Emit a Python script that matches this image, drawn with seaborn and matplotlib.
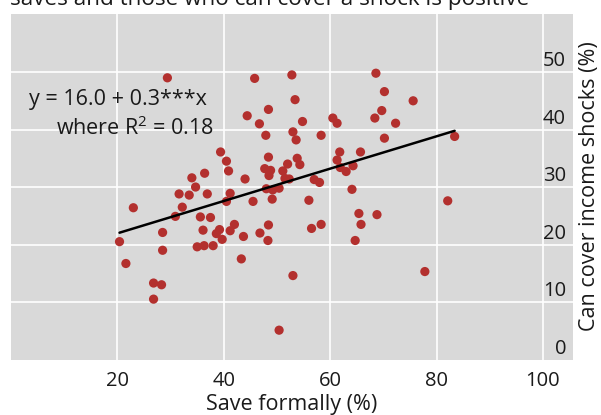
import numpy as np
import pandas as pd
import matplotlib
matplotlib.use("Agg")
import matplotlib.pyplot as plt
import matplotlib.transforms as mtransforms
import seaborn as sns

# Data
save_formally = [
    20.4, 21.6, 23.0, 26.8, 28.3, 26.8, 28.5, 28.5, 29.4, 30.9,
    32.2, 31.6, 33.5, 34.7, 34.0, 36.4, 36.9, 35.6, 37.5, 36.1,
    38.6, 39.2, 35.0, 36.3, 38.0, 39.7, 41.2, 42.0, 43.3, 43.7,
    46.8, 48.4, 48.3, 50.4, 53.0, 56.5, 58.3, 56.0, 45.5, 40.5,
    41.2, 44.0, 40.9, 40.5, 39.4, 47.9, 48.4, 48.0, 49.1, 49.2,
    50.4, 47.7, 48.8, 48.5, 51.1, 52.0, 51.5, 52.3, 53.8, 54.3,
    53.0, 53.6, 58.3, 57.0, 58.0, 45.8, 52.8, 53.4, 48.4, 44.4,
    46.7, 54.8, 60.5, 61.3, 61.8, 61.3, 61.9, 63.0, 64.3, 65.7,
    64.1, 68.6, 70.2, 75.6, 69.7, 68.4, 72.3, 70.2, 83.4, 82.1,
    65.4, 68.8, 65.8, 64.7, 77.8,
]
cover_shocks = [
    20.5, 16.7, 26.4, 13.3, 13.0, 10.5, 22.1, 19.0, 49.0, 24.9,
    26.5, 28.8, 28.6, 30.0, 31.6, 32.4, 28.8, 24.8, 24.7, 22.5,
    21.9, 22.6, 19.6, 19.8, 19.8, 20.9, 22.4, 23.5, 17.5, 21.4,
    22.0, 23.4, 20.7, 5.1, 14.6, 22.8, 23.5, 27.7, 27.5, 27.5,
    28.9, 31.4, 32.8, 34.5, 36.1, 39.0, 35.2, 29.7, 27.9, 29.5,
    29.8, 33.2, 32.9, 32.0, 32.8, 34.0, 31.5, 31.4, 35.0, 33.9,
    39.6, 38.2, 39.0, 31.3, 30.8, 48.9, 49.5, 45.2, 43.5, 42.4,
    41.0, 41.4, 42.0, 41.1, 36.1, 34.7, 33.4, 32.7, 33.7, 36.1,
    29.6, 49.8, 46.6, 45.0, 43.3, 42.0, 41.1, 38.5, 38.8, 27.6,
    25.4, 25.2, 23.5, 20.7, 15.3,
]
x_ticks = [20, 40, 60, 80, 100]
y_ticks = [0, 10, 20, 30, 40, 50]
title_text = "saves and those who can cover a shock is positive"
eq_line1 = "y = 16.0 + 0.3***x"
eq_line2 = "where R$^2$ = 0.18"
x_label = "Save formally (%)"
y_label = "Can cover income shocks (%)"

df = pd.DataFrame({"save": save_formally, "cover": cover_shocks})

sns.set_theme(style="white")
plt.rcParams["font.family"] = ["Open Sans", "DejaVu Sans"]
plt.rcParams["mathtext.fontset"] = "custom"
plt.rcParams["mathtext.rm"] = "Open Sans"

W, H = 601, 415
fig = plt.figure(figsize=(W / 100, H / 100), dpi=100)
ax = fig.add_axes([11 / W, 1 - 359.5 / H, (573 - 11) / W, (359.5 - 14) / H])
ax.set_facecolor("#D9D9D9")

sns.regplot(data=df, x="save", y="cover", ax=ax, ci=None, truncate=True,
            scatter_kws=dict(s=44, color="#B3302E", edgecolor="none", alpha=1, zorder=3),
            line_kws=dict(color="black", lw=1.8, zorder=4))

ax.set_xlim(0, 105.65)
ax.set_ylim(0, 60.1)
ax.set_xticks(x_ticks)
ax.set_yticks(y_ticks)
ax.grid(True, color="white", lw=1.2, zorder=0)
ax.set_axisbelow(True)
for s in ax.spines.values():
    s.set_visible(False)

ax.tick_params(axis="x", direction="in", length=13, width=1.5, color="black",
               labelsize=14.5, pad=8, labelcolor="#1a1a1a")
ax.yaxis.tick_right()
ax.tick_params(axis="y", length=0, labelsize=14.5, pad=-5, labelcolor="#1a1a1a")
offset = mtransforms.ScaledTranslation(0, 0.06, fig.dpi_scale_trans)
for lab in ax.get_yticklabels():
    lab.set_horizontalalignment("right")
    lab.set_verticalalignment("baseline")
    lab.set_transform(lab.get_transform() + offset)
# hide the horizontal gridline at 0 (it is the panel edge)
ax.yaxis.get_gridlines()[0].set_visible(False)

ax.set_xlabel(x_label, fontsize=15.5, labelpad=2.5, color="#1a1a1a")
ax.set_ylabel("")
fig.text(590 / W, 1 - 186 / H, y_label, rotation=90, ha="center", va="center",
         fontsize=15.5, color="#1a1a1a")

ax.text(20.1, 45.2, eq_line1, ha="center", va="center", fontsize=15.5, color="#1a1a1a")
ax.text(23.3, 40.3, eq_line2, ha="center", va="center", fontsize=15.5, color="#1a1a1a")

fig.text(10 / W, 1 - 4.5 / H, title_text, ha="left", va="baseline", fontsize=16.2,
         color="#1a1a1a")

fig.savefig("out.png", dpi=100)
